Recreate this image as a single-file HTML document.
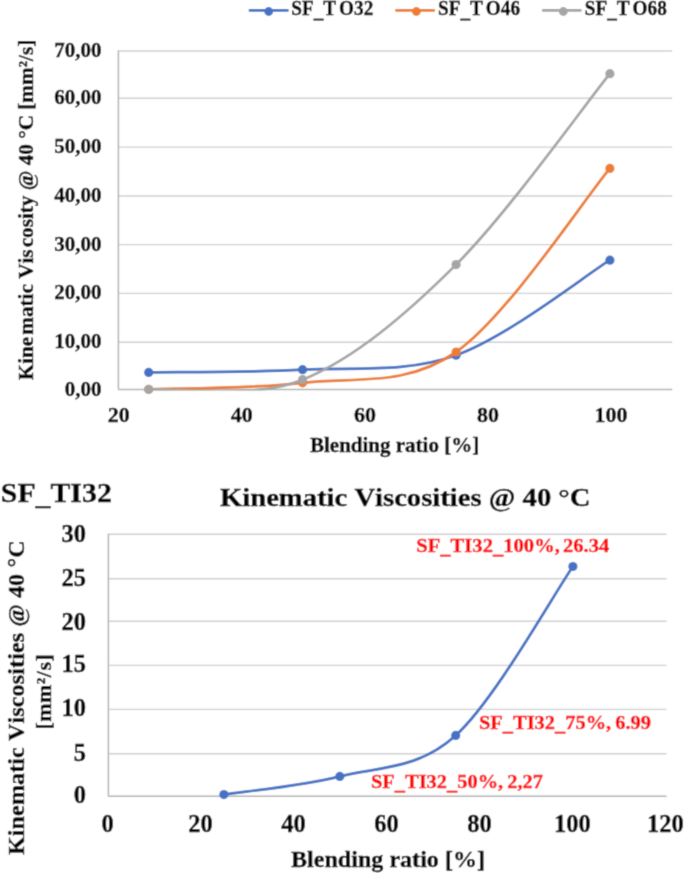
<!DOCTYPE html><html><head><meta charset="utf-8"><style>html,body{margin:0;padding:0;background:#fff;}svg{display:block;will-change:transform}text{font-family:"Liberation Serif",serif;font-weight:bold;fill:#000;stroke:#000;stroke-width:0.35px;font-kerning:none}</style></head><body>
<svg width="685" height="873" viewBox="0 0 685 873">
<defs><filter id="sm" x="0" y="0" width="100%" height="100%" filterUnits="userSpaceOnUse"><feConvolveMatrix order="3" kernelMatrix="0.03 0.1 0.03 0.1 0.48 0.1 0.03 0.1 0.03" edgeMode="duplicate"/></filter></defs><g filter="url(#sm)">
<defs><clipPath id="c1"><rect x="100" y="0" width="585" height="390.50"/></clipPath><clipPath id="c2"><rect x="100" y="480" width="585" height="317.50"/></clipPath></defs>
<rect width="685" height="873" fill="#fff"/>
<line x1="118.4" x2="672.2" y1="342.30" y2="342.30" stroke="#D0D0D0" stroke-width="1.4"/>
<line x1="118.4" x2="672.2" y1="293.40" y2="293.40" stroke="#D0D0D0" stroke-width="1.4"/>
<line x1="118.4" x2="672.2" y1="244.60" y2="244.60" stroke="#D0D0D0" stroke-width="1.4"/>
<line x1="118.4" x2="672.2" y1="196.00" y2="196.00" stroke="#D0D0D0" stroke-width="1.4"/>
<line x1="118.4" x2="672.2" y1="147.10" y2="147.10" stroke="#D0D0D0" stroke-width="1.4"/>
<line x1="118.4" x2="672.2" y1="98.20" y2="98.20" stroke="#D0D0D0" stroke-width="1.4"/>
<line x1="118.4" x2="672.2" y1="51.00" y2="51.00" stroke="#D0D0D0" stroke-width="1.4"/>
<line x1="118.4" x2="672.2" y1="389.60" y2="389.60" stroke="#B2B2B2" stroke-width="1.5"/>
<line x1="118.4" x2="118.4" y1="50.40" y2="389.60" stroke="#B2B2B2" stroke-width="1.5"/>
<path clip-path="url(#c1)" d="M148.70,372.40 C174.34,371.95 251.32,372.57 302.55,369.70 C353.78,366.83 404.88,373.45 456.10,355.20 C507.33,336.95 584.27,276.03 609.90,260.20" fill="none" stroke="#4472C4" stroke-width="2.75" stroke-linecap="round"/>
<circle cx="148.70" cy="372.40" r="4.6" fill="#4472C4"/>
<circle cx="302.55" cy="369.70" r="4.6" fill="#4472C4"/>
<circle cx="456.10" cy="355.20" r="4.6" fill="#4472C4"/>
<circle cx="609.90" cy="260.20" r="4.6" fill="#4472C4"/>
<path clip-path="url(#c1)" d="M148.70,389.30 C174.34,388.22 251.32,389.02 302.55,382.80 C353.78,376.58 404.88,387.73 456.10,352.00 C507.33,316.27 584.27,199.00 609.90,168.40" fill="none" stroke="#ED7D31" stroke-width="2.75" stroke-linecap="round"/>
<circle cx="148.70" cy="389.30" r="4.6" fill="#ED7D31"/>
<circle cx="302.55" cy="382.80" r="4.6" fill="#ED7D31"/>
<circle cx="456.10" cy="352.00" r="4.6" fill="#ED7D31"/>
<circle cx="609.90" cy="168.40" r="4.6" fill="#ED7D31"/>
<path clip-path="url(#c1)" d="M148.70,389.40 C174.34,387.78 251.32,400.50 302.55,379.70 C353.78,358.90 404.88,315.60 456.10,264.60 C507.33,213.60 584.27,105.52 609.90,73.70" fill="none" stroke="#A5A5A5" stroke-width="2.75" stroke-linecap="round"/>
<circle cx="148.70" cy="389.40" r="4.6" fill="#A5A5A5"/>
<circle cx="302.55" cy="379.70" r="4.6" fill="#A5A5A5"/>
<circle cx="456.10" cy="264.60" r="4.6" fill="#A5A5A5"/>
<circle cx="609.90" cy="73.70" r="4.6" fill="#A5A5A5"/>
<text id="yt0" x="101.5" y="395.60" font-size="21" text-anchor="end">0,00</text>
<text id="yt10" x="101.5" y="348.30" font-size="21" text-anchor="end">10,00</text>
<text id="yt20" x="101.5" y="299.40" font-size="21" text-anchor="end">20,00</text>
<text id="yt30" x="101.5" y="250.60" font-size="21" text-anchor="end">30,00</text>
<text id="yt40" x="101.5" y="202.00" font-size="21" text-anchor="end">40,00</text>
<text id="yt50" x="101.5" y="153.10" font-size="21" text-anchor="end">50,00</text>
<text id="yt60" x="101.5" y="104.20" font-size="21" text-anchor="end">60,00</text>
<text id="yt70" x="101.5" y="57.00" font-size="21" text-anchor="end">70,00</text>
<text id="xt20" x="118.80" y="422" font-size="22" text-anchor="middle">20</text>
<text id="xt40" x="241.84" y="422" font-size="22" text-anchor="middle">40</text>
<text id="xt60" x="364.88" y="422" font-size="22" text-anchor="middle">60</text>
<text id="xt80" x="487.92" y="422" font-size="22" text-anchor="middle">80</text>
<text id="xt100" x="610.96" y="422" font-size="22" text-anchor="middle">100</text>
<text id="xtitle1" x="310" y="451.9" font-size="21">Blending ratio [%]</text>
<text id="ytitle1" transform="translate(32.6,380.3) rotate(-90)" font-size="21" textLength="340.5" lengthAdjust="spacingAndGlyphs">Kine<tspan dx="2">matic Vis</tspan><tspan dx="2">cosity @ 40 °C [mm²/s]</tspan></text>
<line x1="248.8" x2="288.6" y1="10.3" y2="10.3" stroke="#4472C4" stroke-width="2.75"/>
<circle cx="268.7" cy="11.5" r="4.4" fill="#4472C4"/>
<line x1="395.3" x2="434.9" y1="10.3" y2="10.3" stroke="#ED7D31" stroke-width="2.75"/>
<circle cx="416.4" cy="11.5" r="4.4" fill="#ED7D31"/>
<line x1="542.1" x2="581.5" y1="10.3" y2="10.3" stroke="#A5A5A5" stroke-width="2.75"/>
<circle cx="563.3" cy="11.5" r="4.4" fill="#A5A5A5"/>
<text id="leg0" x="291.30" y="15" font-size="20" textLength="82" lengthAdjust="spacingAndGlyphs">SF<tspan dy="1.7">_</tspan><tspan dy="-1.7">T</tspan><tspan dx="3">O32</tspan></text>
<text id="leg1" x="438.05" y="15" font-size="20" textLength="82" lengthAdjust="spacingAndGlyphs">SF<tspan dy="1.7">_</tspan><tspan dy="-1.7">T</tspan><tspan dx="3">O46</tspan></text>
<text id="leg2" x="584.80" y="15" font-size="20" textLength="82" lengthAdjust="spacingAndGlyphs">SF<tspan dy="1.7">_</tspan><tspan dy="-1.7">T</tspan><tspan dx="3">O68</tspan></text>
<line x1="108.4" x2="666.5" y1="753.80" y2="753.80" stroke="#D0D0D0" stroke-width="1.4"/>
<line x1="108.4" x2="666.5" y1="709.40" y2="709.40" stroke="#D0D0D0" stroke-width="1.4"/>
<line x1="108.4" x2="666.5" y1="665.40" y2="665.40" stroke="#D0D0D0" stroke-width="1.4"/>
<line x1="108.4" x2="666.5" y1="621.20" y2="621.20" stroke="#D0D0D0" stroke-width="1.4"/>
<line x1="108.4" x2="666.5" y1="578.70" y2="578.70" stroke="#D0D0D0" stroke-width="1.4"/>
<line x1="108.4" x2="666.5" y1="534.30" y2="534.30" stroke="#D0D0D0" stroke-width="1.4"/>
<line x1="108.4" x2="666.5" y1="796.20" y2="796.20" stroke="#B2B2B2" stroke-width="1.5"/>
<line x1="108.4" x2="108.4" y1="533.70" y2="796.20" stroke="#B2B2B2" stroke-width="1.5"/>
<path clip-path="url(#c2)" d="M223.90,794.60 C243.22,791.57 301.17,786.27 339.80,776.40 C378.43,766.53 416.85,770.38 455.70,735.40 C494.55,700.42 553.37,594.65 572.90,566.50" fill="none" stroke="#4472C4" stroke-width="2.75" stroke-linecap="round"/>
<circle cx="223.90" cy="794.60" r="4.6" fill="#4472C4"/>
<circle cx="339.80" cy="776.40" r="4.6" fill="#4472C4"/>
<circle cx="455.70" cy="735.40" r="4.6" fill="#4472C4"/>
<circle cx="572.90" cy="566.50" r="4.6" fill="#4472C4"/>
<text id="yb0" x="86" y="802.90" font-size="24.5" text-anchor="end">0</text>
<text id="yb5" x="86" y="760.80" font-size="24.5" text-anchor="end">5</text>
<text id="yb10" x="86" y="716.30" font-size="24.5" text-anchor="end">10</text>
<text id="yb15" x="86" y="672.30" font-size="24.5" text-anchor="end">15</text>
<text id="yb20" x="86" y="629.70" font-size="24.5" text-anchor="end">20</text>
<text id="yb25" x="86" y="585.50" font-size="24.5" text-anchor="end">25</text>
<text id="yb30" x="86" y="541.50" font-size="24.5" text-anchor="end">30</text>
<text id="xb0" x="107.60" y="832" font-size="24.5" text-anchor="middle">0</text>
<text id="xb20" x="200.55" y="832" font-size="24.5" text-anchor="middle">20</text>
<text id="xb40" x="293.50" y="832" font-size="24.5" text-anchor="middle">40</text>
<text id="xb60" x="386.45" y="832" font-size="24.5" text-anchor="middle">60</text>
<text id="xb80" x="479.40" y="832" font-size="24.5" text-anchor="middle">80</text>
<text id="xb100" x="572.35" y="832" font-size="24.5" text-anchor="middle">100</text>
<text id="xb120" x="665.30" y="832" font-size="24.5" text-anchor="middle">120</text>
<text id="xtitle2" x="291" y="867" font-size="24" textLength="194" lengthAdjust="spacing">Blending ratio [%]</text>
<text id="title2" x="220" y="506" font-size="26" textLength="370.5" lengthAdjust="spacingAndGlyphs">Kinematic Viscosities @ 40 °C</text>
<text id="sfti" x="0.8" y="501.7" font-size="27.5" textLength="111" lengthAdjust="spacingAndGlyphs">SF<tspan dy="2.4">_</tspan><tspan dy="-2.4">TI32</tspan></text>
<text id="ytitle2a" transform="translate(23.8,855) rotate(-90)" font-size="24" textLength="314.5" lengthAdjust="spacing">Kinematic  Viscosities @ 40 °C</text>
<text id="ytitle2b" transform="translate(50.8,729.6) rotate(-90)" font-size="22" textLength="75.4" lengthAdjust="spacing">[mm²/s]</text>
<text id="dl100" x="416.3" y="551.7" font-size="19.5" style="fill:#FF0000;stroke:#FF0000" textLength="193" lengthAdjust="spacingAndGlyphs">SF<tspan dy="1.8">_</tspan><tspan dy="-1.8">TI32</tspan><tspan dy="1.8">_</tspan><tspan dy="-1.8">100%,</tspan><tspan dx="-2"> 26.34</tspan></text>
<text id="dl75" x="479" y="729.4" font-size="19.5" style="fill:#FF0000;stroke:#FF0000" textLength="172" lengthAdjust="spacingAndGlyphs">SF<tspan dy="1.8">_</tspan><tspan dy="-1.8">TI32</tspan><tspan dy="1.8">_</tspan><tspan dy="-1.8">75%,</tspan><tspan dx="-1"> 6.99</tspan></text>
<text id="dl50" x="371" y="787.7" font-size="19.5" style="fill:#FF0000;stroke:#FF0000" textLength="172" lengthAdjust="spacingAndGlyphs">SF<tspan dy="1.8">_</tspan><tspan dy="-1.8">TI32</tspan><tspan dy="1.8">_</tspan><tspan dy="-1.8">50%,</tspan><tspan dx="-1"> 2,27</tspan></text>
</g></svg></body></html>
